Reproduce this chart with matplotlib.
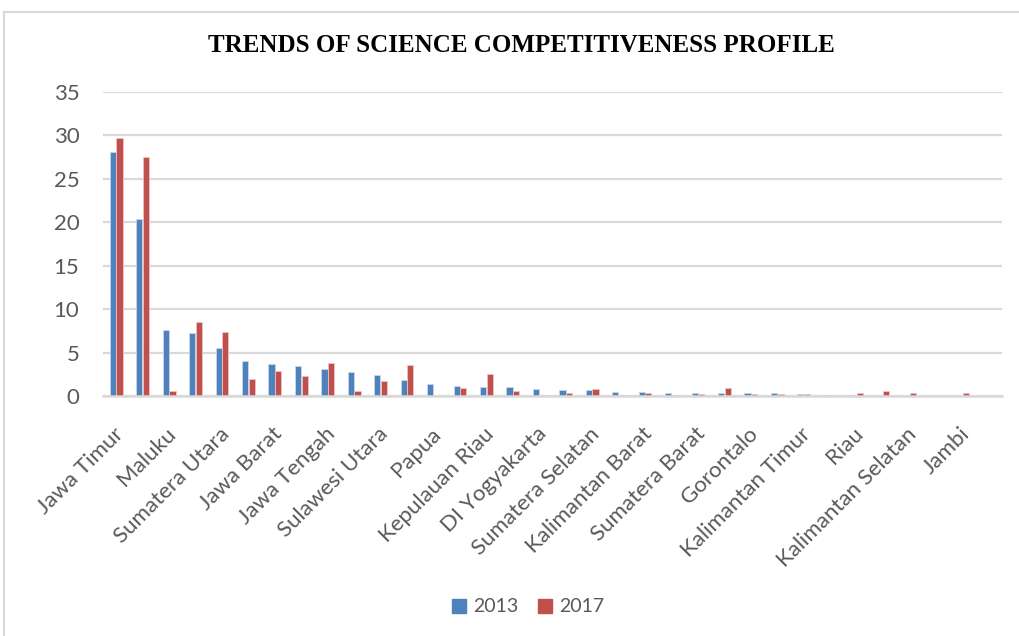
import matplotlib
matplotlib.use("Agg")
import matplotlib.pyplot as plt
import numpy as np
from matplotlib.lines import Line2D
from matplotlib.patches import Patch
from matplotlib.transforms import ScaledTranslation

provinces = [
    "Jawa Timur", "DKI Jakarta", "Maluku", "Jawa Timur Selatan", "Sumatera Utara", "Banten",
    "Jawa Barat", "Sulawesi Selatan", "Jawa Tengah", "Bali", "Sulawesi Utara", "Aceh",
    "Papua", "Nusa Tenggara Barat", "Kepulauan Riau", "Sulawesi Tengah", "DI Yogyakarta",
    "Lampung", "Sumatera Selatan", "Nusa Tenggara Timur", "Kalimantan Barat", "Bengkulu",
    "Sumatera Barat", "Sulawesi Tenggara", "Gorontalo", "Kalimantan Tengah",
    "Kalimantan Timur", "Bangka Belitung", "Riau", "Maluku Utara", "Kalimantan Selatan",
    "Sulawesi Barat", "Jambi", "Papua Barat",
]
v2013 = [28.07, 20.39, 7.60, 7.30, 5.53, 4.03, 3.69, 3.46, 3.15, 2.73, 2.42, 1.88,
         1.36, 1.12, 1.04, 1.00, 0.85, 0.69, 0.65, 0.50, 0.42, 0.31, 0.31, 0.29,
         0.31, 0.31, 0.19, 0.12, 0.08, 0.0, 0.0, 0.0, 0.0, 0.0]
v2017 = [29.76, 27.46, 0.61, 8.53, 7.33, 1.92, 2.84, 2.30, 3.80, 0.61, 1.73, 3.55,
         0.0, 0.92, 2.50, 0.54, 0.15, 0.35, 0.85, 0.12, 0.31, 0.12, 0.23, 0.92,
         0.23, 0.23, 0.19, 0.0, 0.31, 0.58, 0.35, 0.0, 0.35, 0.0]
series_names = ["2013", "2017"]
title = "TRENDS OF SCIENCE COMPETITIVENESS PROFILE"

blue = "#4F81BD"
red = "#C0504D"
grid = "#D9D9D9"
txt = "#595959"
font = ["Lato", "DejaVu Sans"]

fig = plt.figure(figsize=(10.2, 6.36), dpi=100)
ax = fig.add_axes([103/1020, 1-396/636, (1002-103)/1020, (396-92)/636])

x = np.arange(len(provinces))
w = 0.235
ax.bar(x - 0.125, v2013, width=w, color=blue, edgecolor="#C9D7EA", linewidth=0.6, zorder=3)
ax.bar(x + 0.125, v2017, width=w, color=red, edgecolor="#EBC4C3", linewidth=0.6, zorder=3)

ax.set_xlim(-0.5, len(provinces) - 0.5)
ax.set_ylim(0, 35)
ax.set_yticks(np.arange(0, 36, 5))
ax.yaxis.grid(True, color=grid, linewidth=1.6, zorder=0)
ax.set_axisbelow(True)
for s in ["top", "right", "left"]:
    ax.spines[s].set_visible(False)
ax.spines["bottom"].set_color(grid)
ax.spines["bottom"].set_linewidth(1.8)
ax.spines["bottom"].set_zorder(4)

ax.set_xticks(x)
labels = [p if i % 2 == 0 else "" for i, p in enumerate(provinces)]
ax.set_xticklabels(labels, rotation=45, ha="right", va="center",
                   rotation_mode="anchor", fontsize=16, color=txt, family=font)
ax.tick_params(axis="x", length=0, pad=25)
ax.tick_params(axis="y", length=0, pad=17, labelsize=16, labelcolor=txt)
shift = ScaledTranslation(4/100, 0, fig.dpi_scale_trans)
for t in ax.get_xticklabels():
    t.set_transform(t.get_transform() + shift)
for t in ax.get_yticklabels():
    t.set_family(font)

fig.text(521/1020, 1-46/636, title, ha="center", va="center",
         fontsize=18, fontweight="bold", family=["Liberation Serif", "DejaVu Serif"])

handles = [Patch(facecolor=blue, edgecolor=blue), Patch(facecolor=red, edgecolor=red)]
leg = fig.legend(handles, series_names, loc="center", bbox_to_anchor=(528/1020, 1-607/636),
                 ncol=2, frameon=False, handlelength=0.75, handleheight=0.75,
                 handletextpad=0.35, columnspacing=1.0,
                 prop={"family": font, "size": 14})
for t in leg.get_texts():
    t.set_color(txt)

fig.add_artist(Line2D([4/1020, 4/1020], [0, 1-12/636], color="#D9D9D9", linewidth=1.5))
fig.add_artist(Line2D([4/1020, 1], [1-12/636, 1-12/636], color="#D9D9D9", linewidth=1.5))

fig.savefig("out.png", dpi=100)
